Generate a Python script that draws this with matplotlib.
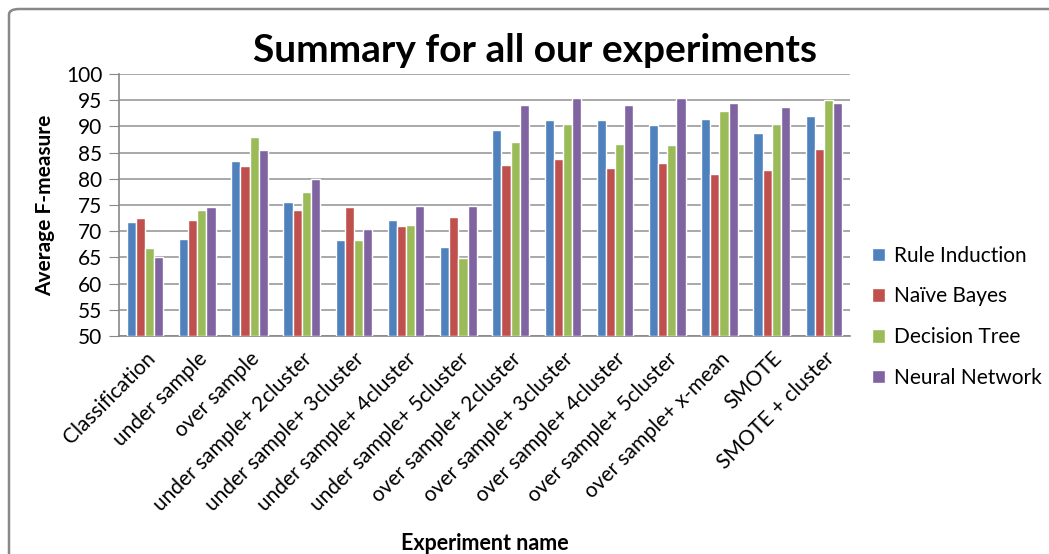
import numpy as np
import matplotlib.pyplot as plt
from matplotlib.patches import FancyBboxPatch

plt.rcParams['font.family'] = ['Lato', 'DejaVu Sans']

# Experiments and average F-measure per classifier
experiments = [
    "Classification", "under sample", "over sample",
    "under sample+ 2cluster", "under sample+ 3cluster",
    "under sample+ 4cluster", "under sample+ 5cluster",
    "over sample+ 2cluster", "over sample+ 3cluster",
    "over sample+ 4cluster", "over sample+ 5cluster",
    "over sample+ x-mean", "SMOTE", "SMOTE + cluster",
]
rule_induction = [71.8, 68.6, 83.4, 75.5, 68.4, 72.2, 66.9, 89.4, 91.2, 91.2, 90.2, 91.5, 88.8, 91.9]
naive_bayes = [72.6, 72.2, 82.4, 74.1, 74.7, 71.0, 72.8, 82.6, 83.7, 82.0, 83.0, 80.9, 81.7, 85.7]
decision_tree = [66.7, 74.0, 88.0, 77.4, 68.4, 71.2, 64.8, 87.1, 90.5, 86.7, 86.5, 92.9, 90.5, 95.0]
neural_network = [65.1, 74.7, 85.5, 79.9, 70.5, 74.9, 74.9, 94.1, 95.4, 94.1, 95.4, 94.4, 93.7, 94.4]

series = {
    "Rule Induction": (rule_induction, "#4f81bd"),
    "Naïve Bayes": (naive_bayes, "#c0504d"),
    "Decision Tree": (decision_tree, "#9bbb59"),
    "Neural Network": (neural_network, "#8064a2"),
}

fig = plt.figure(figsize=(10.49, 5.54), dpi=100)
ax = fig.add_axes([119 / 1049, 1 - 336 / 554, (850 - 119) / 1049, (336 - 74) / 554])

x = np.arange(len(experiments))
width = 0.175
for i, (name, (vals, color)) in enumerate(series.items()):
    offset = (i - 1.5) * width
    ax.bar(x + offset, np.array(vals) - 50, width, bottom=50, color=color,
           edgecolor="white", linewidth=1.0, label=name, zorder=3)

ax.set_ylim(50, 100)
ax.set_xlim(-0.5, len(experiments) - 0.5)
ax.set_yticks(np.arange(50, 101, 5))
ax.tick_params(axis="y", labelsize=15, length=7, color="#888888", pad=5)
ax.tick_params(axis="x", length=0, labelsize=15, pad=9)
ax.set_xticks(x)
ax.set_xticklabels(experiments, rotation=45, ha="right", rotation_mode="anchor")
ax.yaxis.grid(True, color="#9a9a9a", linewidth=1.2, zorder=0)
for s in ["top", "right"]:
    ax.spines[s].set_visible(False)
ax.spines["left"].set_color("#888888")
ax.spines["bottom"].set_color("#888888")
ax.spines["left"].set_linewidth(1.2)
ax.spines["bottom"].set_linewidth(1.2)

ax.set_ylabel("Average F-measure", fontsize=15, fontweight="bold", labelpad=8)
ax.set_xlabel("Experiment name", fontsize=15.5, fontweight="bold", labelpad=13)
fig.text(535 / 1049, 1 - 50 / 554, "Summary for all our experiments",
         fontsize=28, fontweight="bold", ha="center", va="center")

ax.legend(loc="center left", bbox_to_anchor=(1.005, 0.073), frameon=False,
          fontsize=15, handlelength=0.6, handleheight=0.6, handletextpad=0.45,
          labelspacing=1.0)

# chart border: only top and left edges fall inside the picture
border = FancyBboxPatch((9 / 1049, -0.2), 1.2, 1.2 - 9 / 554,
                        boxstyle="round,pad=0,rounding_size=0.01",
                        transform=fig.transFigure, fill=False,
                        edgecolor="#888888", linewidth=1.8, clip_on=False)
fig.patches.append(border)

fig.savefig("out.png", dpi=100)
